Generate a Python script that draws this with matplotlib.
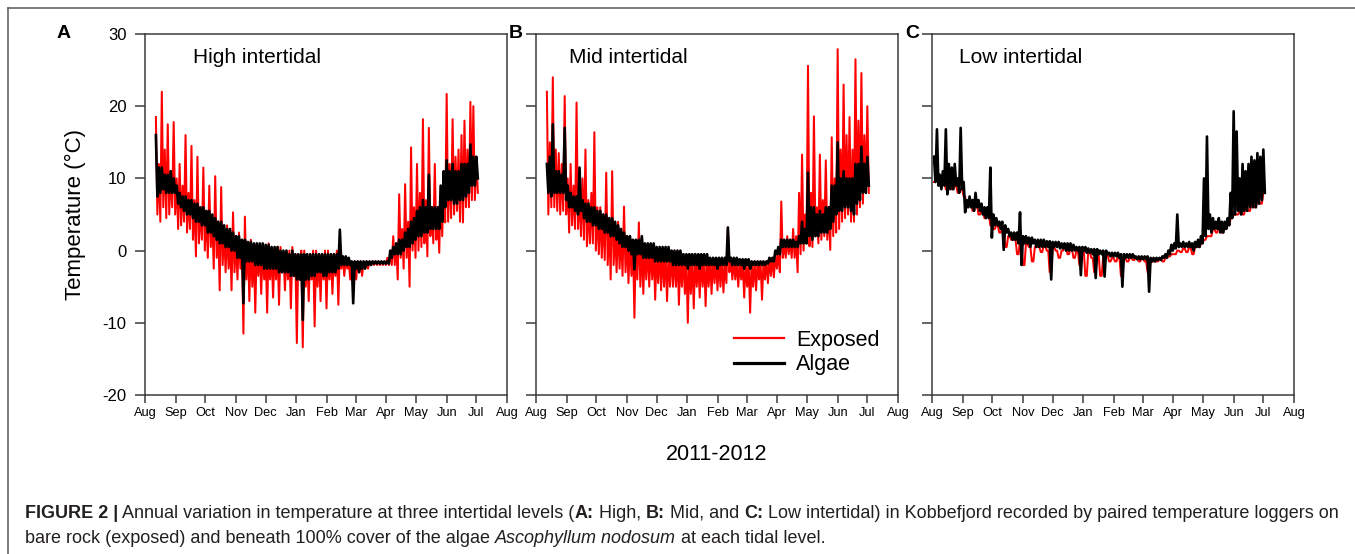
import numpy as np
import matplotlib
matplotlib.use('Agg')
import matplotlib.pyplot as plt
from matplotlib.lines import Line2D
from matplotlib import font_manager as fm

plt.rcParams['font.family'] = ['Liberation Sans', 'DejaVu Sans']
plt.rcParams['axes.unicode_minus'] = False

# ---------------- data ----------------
month_labels = ['Aug', 'Sep', 'Oct', 'Nov', 'Dec', 'Jan', 'Feb', 'Mar',
                'Apr', 'May', 'Jun', 'Jul', 'Aug']
month_start_day = [0, 31, 61, 92, 122, 153, 184, 213, 244, 274, 305, 335, 366]

# days since 1 Aug 2011; each reading step holds a daily high and a daily low
days_ab = np.arange(11, 336, 3)   # panels A, B
days_c = np.arange(2, 336, 3)     # panel C
half_step = 1.5                   # the low of each step is logged half a step later

# --- A: High intertidal ---
high_exposed_hi = [18.5, 12.0, 22.0, 14.0, 17.5, 11.0, 17.8, 10.0, 12.0, 9.0,
                   16.0, 8.0, 14.5, 7.0, 13.0, 6.0, 11.5, 5.5, 9.0, 4.5,
                   10.3, 4.0, 8.8, 3.0, 3.5, 2.0, 5.3, 1.5, 2.5, 1.0,
                   4.7, 1.0, 1.5, 0.5, 1.0, 0.5, 0.5, 0.0, 1.0, 0.0,
                   0.0, 0.5, 0.5, -0.5, 0.0, 0.0, 0.5, -0.5, -0.5, 0.0,
                   0.0, -0.5, -0.5, 0.0, 0.0, -0.5, -0.5, 0.0, 0.0, -0.5,
                   -0.5, 0.0, 0.5, -1.0, -1.0, -1.5, -1.5, -1.5, -1.5, -1.5,
                   -1.5, -1.5, -1.5, -1.5, -1.5, -1.5, -1.5, -1.5, -1.0, -0.5,
                   2.0, 1.0, 7.8, 3.0, 9.2, 4.0, 14.3, 6.0, 12.0, 8.0,
                   18.2, 7.0, 17.0, 6.0, 12.0, 5.0, 9.0, 10.0, 21.7, 12.0,
                   18.2, 13.0, 14.0, 16.0, 18.0, 14.0, 20.6, 20.0, 13.0]
high_exposed_lo = [5.0, 4.0, 6.0, 4.5, 5.0, 6.0, 5.0, 3.0, 3.5, 4.0,
                   2.5, 3.0, 1.5, -0.8, 1.0, 1.5, 0.0, -1.0, 0.5, -2.5,
                   -1.0, -5.5, -2.0, -3.0, -2.5, -5.5, -3.0, -4.0, -2.5, -11.5,
                   -4.0, -7.0, -5.0, -8.6, -3.5, -6.0, -4.0, -8.6, -4.0, -6.5,
                   -4.0, -7.5, -3.0, -5.5, -4.0, -8.0, -3.5, -12.8, -4.0, -13.4,
                   -5.0, -7.0, -4.0, -10.5, -5.0, -7.0, -4.0, -8.0, -4.0, -6.0,
                   -3.5, -7.5, -2.5, -3.5, -2.5, -4.0, -2.5, -4.0, -3.0, -3.5,
                   -2.5, -2.5, -2.0, -2.0, -2.0, -2.0, -2.0, -2.0, -2.0, -2.0,
                   -2.0, -4.0, -1.0, -2.5, -1.0, -5.0, 0.0, -1.0, 0.0, 0.5,
                   1.0, -0.8, 2.0, 1.0, 1.5, -0.3, 2.0, 3.9, 4.0, 4.5,
                   5.0, 5.5, 4.0, 3.9, 6.0, 6.0, 7.0, 7.0, 8.0]
high_algae_hi = [16.0, 11.5, 11.5, 10.5, 10.5, 11.0, 10.0, 9.0, 8.0, 7.5,
                 7.5, 7.0, 7.0, 6.5, 6.5, 6.0, 6.0, 5.5, 5.5, 5.0,
                 4.5, 4.0, 4.0, 3.5, 3.0, 3.0, 2.5, 2.0, 2.0, 1.5,
                 1.5, 1.2, 1.2, 1.0, 1.0, 1.0, 1.0, 0.8, 0.8, 0.5,
                 0.5, 0.5, 0.0, 0.0, 0.0, -0.5, 0.0, -0.5, -0.5, -0.5,
                 -0.5, -0.5, -0.5, -0.5, -0.5, -0.5, -0.5, -0.5, -0.5, -0.5,
                 -0.5, -0.5, 2.9, -0.8, -0.8, -1.0, -1.5, -1.5, -1.5, -1.5,
                 -1.5, -1.5, -1.5, -1.5, -1.5, -1.5, -1.5, -1.5, -1.5, 0.0,
                 0.5, 1.0, 1.5, 1.5, 2.5, 3.0, 4.0, 4.5, 5.5, 6.0,
                 7.0, 6.0, 10.5, 6.0, 6.0, 6.0, 9.0, 11.0, 12.5, 11.0,
                 12.0, 11.0, 11.0, 12.0, 12.0, 12.0, 14.7, 13.0, 13.0]
high_algae_lo = [7.5, 8.0, 8.5, 8.0, 8.0, 8.0, 8.0, 6.5, 6.0, 5.5,
                 5.0, 5.0, 4.5, 4.0, 4.0, 3.5, 3.5, 2.5, 2.5, 2.0,
                 1.5, 1.0, 1.0, 0.5, 0.5, 0.0, 0.0, -1.0, -1.0, -7.3,
                 -1.5, -1.5, -1.5, -2.0, -2.0, -2.0, -2.5, -2.5, -2.5, -2.5,
                 -2.5, -3.0, -3.0, -3.0, -3.0, -3.5, -3.5, -4.0, -4.0, -9.6,
                 -4.0, -4.0, -3.5, -3.5, -3.0, -3.0, -3.5, -3.5, -3.0, -3.0,
                 -3.0, -2.5, -2.0, -2.0, -2.0, -2.0, -7.3, -2.5, -3.0, -2.5,
                 -2.5, -2.0, -2.0, -1.8, -1.8, -1.8, -1.8, -1.8, -1.8, -1.0,
                 -0.5, -0.5, -0.5, 0.0, 0.5, 0.5, 1.0, 1.5, 2.0, 2.0,
                 2.5, 2.5, 3.0, 3.0, 3.0, 3.0, 4.0, 6.0, 7.0, 7.0,
                 6.5, 6.5, 7.0, 7.0, 7.5, 8.0, 9.0, 9.0, 10.0]

# --- B: Mid intertidal ---
mid_exposed_hi = [22.0, 15.0, 24.0, 14.0, 13.5, 12.0, 21.4, 10.0, 12.0, 9.0,
                  20.5, 8.0, 10.0, 14.0, 7.0, 8.0, 16.4, 6.0, 6.0, 5.0,
                  10.8, 4.0, 11.0, 3.0, 4.0, 2.5, 6.1, 2.0, 2.0, 1.5,
                  1.5, 3.9, 1.0, 0.5, 1.0, 0.5, 0.5, 0.0, 0.5, 0.0,
                  0.0, -0.5, 0.0, -0.5, 0.0, -0.5, -0.5, -1.0, -0.5, -1.0,
                  -0.5, -1.0, -1.0, -1.0, -1.0, -1.0, -1.0, -1.0, -1.0, -1.0,
                  -1.5, 3.2, -1.0, -1.5, -1.5, -1.5, -1.5, -1.5, -1.5, -1.5,
                  -1.5, -1.5, -1.5, -1.5, -1.5, -1.0, -1.0, -0.5, 0.0, 6.8,
                  1.0, 2.0, 1.5, 3.0, 2.0, 8.0, 13.3, 5.0, 25.6, 8.0,
                  18.6, 6.0, 13.3, 7.0, 12.5, 6.0, 15.7, 10.0, 27.9, 14.0,
                  23.0, 16.0, 18.5, 14.0, 26.5, 18.0, 24.6, 16.0, 20.0]
mid_exposed_lo = [5.0, 6.0, 6.0, 5.5, 5.0, 5.5, 5.0, 2.5, 3.5, 3.0,
                  3.0, 2.0, 1.5, 0.6, 1.0, 1.0, 0.0, -0.5, -1.0, -1.3,
                  -2.0, -4.0, -2.0, -3.0, -2.5, -3.5, -3.0, -4.5, -3.5, -9.3,
                  -4.0, -5.0, -6.0, -4.0, -5.0, -4.0, -6.8, -4.5, -5.5, -5.0,
                  -7.0, -5.0, -5.0, -5.0, -7.5, -5.0, -6.0, -10.0, -6.0, -8.0,
                  -5.0, -6.5, -5.0, -7.7, -5.0, -6.0, -4.5, -5.5, -5.0, -5.8,
                  -4.5, -3.0, -4.0, -4.0, -5.0, -4.0, -6.5, -5.0, -8.6, -5.0,
                  -5.5, -4.0, -6.8, -4.0, -4.5, -3.5, -3.7, -2.5, -3.0, -1.0,
                  -1.0, -0.5, -1.0, -1.0, -3.0, -0.5, 0.0, 1.0, 0.6, 0.5,
                  2.0, 1.0, 1.5, 2.0, 1.5, 0.1, 2.0, 2.5, 3.0, 4.0,
                  4.5, 5.0, 4.0, 4.0, 5.0, 6.0, 6.5, 8.0, 8.0]
mid_algae_hi = [12.0, 13.0, 17.5, 11.0, 11.0, 10.5, 17.0, 9.0, 8.0, 7.5,
                7.5, 11.5, 7.0, 6.5, 6.5, 6.0, 6.0, 5.5, 5.5, 5.0,
                5.0, 4.5, 4.5, 4.0, 3.5, 3.0, 2.5, 2.0, 2.0, 1.5,
                1.5, 1.5, 2.0, 1.0, 1.0, 1.0, 1.0, 0.5, 0.5, 0.5,
                0.5, 0.5, 0.0, 0.0, 0.0, 0.0, -0.5, -0.5, -0.5, -0.5,
                -0.5, -0.5, -0.5, -0.5, -0.5, -1.0, -1.0, -1.0, -1.0, -1.0,
                -1.0, 3.2, -1.0, -1.0, -1.0, -1.2, -1.2, -1.2, -1.2, -1.5,
                -1.5, -1.5, -1.5, -1.5, -1.5, -1.0, -1.0, 0.0, 0.5, 1.5,
                1.5, 1.5, 1.5, 1.5, 1.2, 2.0, 4.0, 3.0, 10.8, 6.0,
                6.0, 5.0, 5.5, 5.0, 6.0, 6.0, 9.0, 9.0, 15.0, 10.0,
                11.0, 10.0, 10.0, 10.0, 12.0, 12.0, 14.4, 12.0, 13.0]
mid_algae_lo = [8.0, 7.5, 8.0, 8.0, 8.0, 8.0, 7.0, 6.0, 6.0, 5.5,
                5.0, 5.5, 4.5, 4.0, 4.0, 3.5, 3.5, 3.0, 3.0, 2.5,
                2.5, 2.0, 2.0, 1.5, 1.0, 0.5, 0.5, 0.0, -0.5, -2.6,
                -0.5, -0.5, -1.0, -1.0, -1.0, -1.0, -1.5, -1.5, -1.5, -1.5,
                -1.5, -1.5, -2.0, -2.0, -2.0, -2.0, -2.0, -2.5, -2.0, -2.0,
                -2.0, -2.5, -2.0, -2.0, -2.0, -2.0, -2.0, -2.5, -2.0, -2.0,
                -2.0, -1.5, -2.0, -2.0, -2.0, -2.0, -2.5, -2.0, -2.5, -2.0,
                -2.0, -2.0, -2.0, -2.0, -1.8, -1.5, -1.5, -0.5, -0.5, 0.5,
                0.5, 0.5, 0.5, 0.5, 0.5, 1.0, 1.0, 1.0, 2.0, 1.5,
                2.0, 2.0, 2.5, 2.5, 2.5, 3.0, 4.0, 5.0, 5.5, 5.5,
                6.0, 6.0, 5.5, 5.0, 6.5, 7.0, 8.0, 8.0, 9.0]

# --- C: Low intertidal ---
low_exposed_hi = [9.5, 10.0, 9.0, 9.5, 8.5, 9.5, 8.5, 9.0, 8.0, 8.5,
                  7.5, 6.0, 6.5, 5.5, 6.5, 5.0, 5.5, 4.5, 5.0, 3.5,
                  3.0, 3.5, 2.5, 3.0, 0.5, 2.0, 1.5, 1.5, -0.5, 1.5,
                  -2.0, 1.0, 0.5, -1.5, 0.5, 0.5, -0.2, 0.8, 0.0, -3.0,
                  0.5, 0.0, -1.0, 0.0, 0.5, -0.5, 0.3, -1.0, 0.0, -2.0,
                  0.0, -3.5, 0.0, -1.0, -3.0, -0.5, -3.5, -1.0, -0.5, -1.5,
                  -1.0, -1.5, -0.8, -3.5, -1.0, -1.5, -1.0, -1.3, -1.0, -1.5,
                  -1.0, -1.5, -3.0, -1.5, -1.5, -1.5, -1.2, -1.5, -1.0, -0.8,
                  -0.5, -0.5, 0.0, -0.2, 0.3, -0.2, 0.5, -0.5, 0.5, 0.5,
                  1.0, 1.5, 2.0, 2.0, 3.0, 2.5, 3.5, 2.5, 3.5, 3.5,
                  4.5, 5.0, 5.0, 5.5, 5.0, 6.0, 5.5, 6.5, 6.0, 7.0,
                  6.5, 8.0]
low_exposed_lo = low_exposed_hi
low_algae_hi = [13.0, 16.8, 10.5, 11.0, 16.8, 12.0, 11.5, 12.0, 10.0, 17.0,
                9.5, 7.0, 7.5, 7.0, 8.0, 7.0, 6.5, 6.0, 6.0, 11.5,
                5.0, 4.5, 4.0, 4.0, 3.5, 3.0, 2.5, 2.5, 2.5, 5.3,
                2.0, 2.0, 1.8, 1.8, 1.5, 1.5, 1.5, 1.5, 1.3, 1.3,
                1.2, 1.2, 1.2, 1.0, 1.0, 1.0, 1.0, 0.8, 0.5, 0.5,
                0.5, 0.5, 0.3, 0.2, 0.2, 0.2, 0.0, 0.0, 0.0, -0.3,
                -0.3, -0.3, -0.3, -0.5, -0.5, -0.5, -0.5, -0.5, -0.8, -0.8,
                -0.8, -0.8, -0.8, -1.0, -1.0, -1.0, -1.0, -0.8, -0.5, 0.0,
                0.8, 1.0, 5.0, 1.0, 1.2, 1.0, 1.2, 1.0, 1.2, 1.5,
                2.0, 10.0, 15.8, 5.0, 4.5, 4.0, 4.5, 4.0, 4.0, 4.5,
                8.0, 19.3, 16.5, 10.0, 12.0, 11.0, 12.0, 13.0, 12.5, 13.5,
                13.0, 14.0]
low_algae_lo = [9.5, 9.0, 8.5, 9.0, 7.8, 8.5, 8.5, 9.0, 8.0, 8.5,
                5.3, 6.0, 6.0, 5.5, 6.0, 5.5, 5.0, 4.5, 4.5, 1.8,
                3.5, 3.5, 3.0, 0.1, 2.5, 2.0, 1.5, 1.5, 1.0, -2.0,
                1.0, 1.0, 0.5, 1.0, 0.5, 0.5, 0.5, 0.5, 0.5, -4.0,
                0.5, 0.5, 0.3, 0.3, 0.0, 0.0, 0.0, 0.0, 0.0, -3.4,
                0.0, -0.3, -0.3, -0.5, -3.8, -0.5, -0.5, -3.6, -0.5, -0.8,
                -0.8, -0.8, -1.0, -5.0, -1.0, -1.0, -1.0, -1.0, -1.2, -1.2,
                -1.2, -1.2, -5.7, -1.5, -1.5, -1.3, -1.3, -1.0, -1.0, -0.5,
                0.0, 0.3, 0.5, 0.5, 0.5, 0.5, 0.5, 0.0, 0.5, 0.5,
                1.0, 2.0, 3.0, 2.5, 3.0, 3.0, 2.5, 2.5, 3.0, 3.5,
                4.5, 5.0, 5.5, 5.0, 5.5, 5.5, 6.0, 6.0, 6.0, 6.5,
                7.0, 8.0]

panel_letters = ['A', 'B', 'C']
panel_titles = ['High intertidal', 'Mid intertidal', 'Low intertidal']
series_names = ['Exposed', 'Algae']
y_ticks = [-20, -10, 0, 10, 20, 30]
x_label = '2011-2012'
y_label = 'Temperature (°C)'

panels = [(days_ab, (high_exposed_hi, high_exposed_lo), (high_algae_hi, high_algae_lo)),
          (days_ab, (mid_exposed_hi, mid_exposed_lo), (mid_algae_hi, mid_algae_lo)),
          (days_c, (low_exposed_hi, low_exposed_lo), (low_algae_hi, low_algae_lo))]


def as_trace(days, hi, lo):
    n = min(len(days), len(hi), len(lo))
    d = np.asarray(days[:n], dtype=float)
    x = np.empty(2 * n)
    y = np.empty(2 * n)
    x[0::2] = d
    x[1::2] = d + half_step
    y[0::2] = hi[:n]
    y[1::2] = lo[:n]
    return x, y


# ---------------- figure ----------------
W, H = 1355, 554
fig = plt.figure(figsize=(W / 100, H / 100), dpi=100)
fig.patch.set_facecolor('white')

frame_col = '#5a5a5a'
fig.add_artist(Line2D([8 / W, 1.0], [1 - 8 / H, 1 - 8 / H], transform=fig.transFigure,
                      color=frame_col, lw=1.1))
fig.add_artist(Line2D([8 / W, 8 / W], [0, 1 - 8 / H], transform=fig.transFigure,
                      color=frame_col, lw=1.1))

ax_left_px = [145, 536, 932]
ax_w_px = 362
ax_top_px, ax_bot_px = 34, 395
title_x = [0.133, 0.091, 0.075]
letter_x_px = [64, 516, 912]
spine_col = '#3c3c3c'

axes = []
for k, (days, exp_pair, alg_pair) in enumerate(panels):
    ax = fig.add_axes([ax_left_px[k] / W, 1 - ax_bot_px / H,
                       ax_w_px / W, (ax_bot_px - ax_top_px) / H])
    xe, ye = as_trace(days, *exp_pair)
    xa, ya = as_trace(days, *alg_pair)
    ax.plot(xe, ye, color='#ff0000', lw=1.45)
    ax.plot(xa, ya, color='#000000', lw=1.9)
    ax.set_xlim(month_start_day[0], month_start_day[-1])
    ax.set_ylim(-20, 30)
    ax.set_xticks(month_start_day)
    ax.set_xticklabels(month_labels)
    ax.set_yticks(y_ticks)
    for sp in ax.spines.values():
        sp.set_color(spine_col)
        sp.set_linewidth(1.1)
    ax.tick_params(axis='y', direction='out', length=7.2, width=1.1, color=spine_col,
                   labelsize=12, pad=6, labelleft=(k == 0))
    ax.tick_params(axis='x', direction='out', length=5.8, width=1.1, color=spine_col,
                   labelsize=9.2, pad=3)
    ax.text(title_x[k], 0.936, panel_titles[k], transform=ax.transAxes,
            fontsize=15, ha='left', va='center')
    fig.text(letter_x_px[k] / W, 1 - 34 / H, panel_letters[k], fontsize=14,
             fontweight='bold', ha='center', va='center')
    axes.append(ax)

axes[0].set_ylabel(y_label, fontsize=16, labelpad=12)

handles = [Line2D([], [], color='#ff0000', lw=1.6),
           Line2D([], [], color='#000000', lw=2.3)]
axes[1].legend(handles, series_names, loc='upper left',
               bbox_to_anchor=(0.546, 0.18), frameon=False, fontsize=15.5,
               handlelength=2.35, handletextpad=0.55, labelspacing=0.15,
               borderpad=0, borderaxespad=0)

fig.text(717 / W, 1 - 455 / H, x_label, fontsize=15.5, ha='center', va='center')

# ---------------- caption ----------------
cap_font = 'Liberation Sans'
try:
    fm.findfont(fm.FontProperties(family='Liberation Sans Narrow'), fallback_to_default=False)
    cap_font = 'Liberation Sans Narrow'
except Exception:
    pass

caption_line1 = [("FIGURE 2 |", 'bold', 'normal'),
                 (" Annual variation in temperature at three intertidal levels (", 'normal', 'normal'),
                 ("A:", 'bold', 'normal'), (" High, ", 'normal', 'normal'),
                 ("B:", 'bold', 'normal'), (" Mid, and ", 'normal', 'normal'),
                 ("C:", 'bold', 'normal'),
                 (" Low intertidal) in Kobbefjord recorded by paired temperature loggers on",
                  'normal', 'normal')]
caption_line2 = [("bare rock (exposed) and beneath 100% cover of the algae ", 'normal', 'normal'),
                 ("Ascophyllum nodosum", 'normal', 'italic'),
                 (" at each tidal level.", 'normal', 'normal')]

renderer = fig.canvas.get_renderer()


def draw_pieces(pieces, x0, y_base, fs):
    x = x0
    made = []
    for s, wt, st in pieces:
        t = fig.text(x / W, 1 - y_base / H, s, fontsize=fs, fontweight=wt, fontstyle=st,
                     family=cap_font, ha='left', va='baseline', color='#231f20')
        bb = t.get_window_extent(renderer)
        x = bb.x1
        made.append(t)
    return made, x - x0


fs0 = 11.0
tmp, w1 = draw_pieces(caption_line1, 25, 518, fs0)
for t in tmp:
    t.remove()
fs = fs0 * 1313.0 / w1
draw_pieces(caption_line1, 25, 518, fs)
draw_pieces(caption_line2, 25, 543, fs)

fig.savefig('out.png', dpi=100, facecolor='white')
